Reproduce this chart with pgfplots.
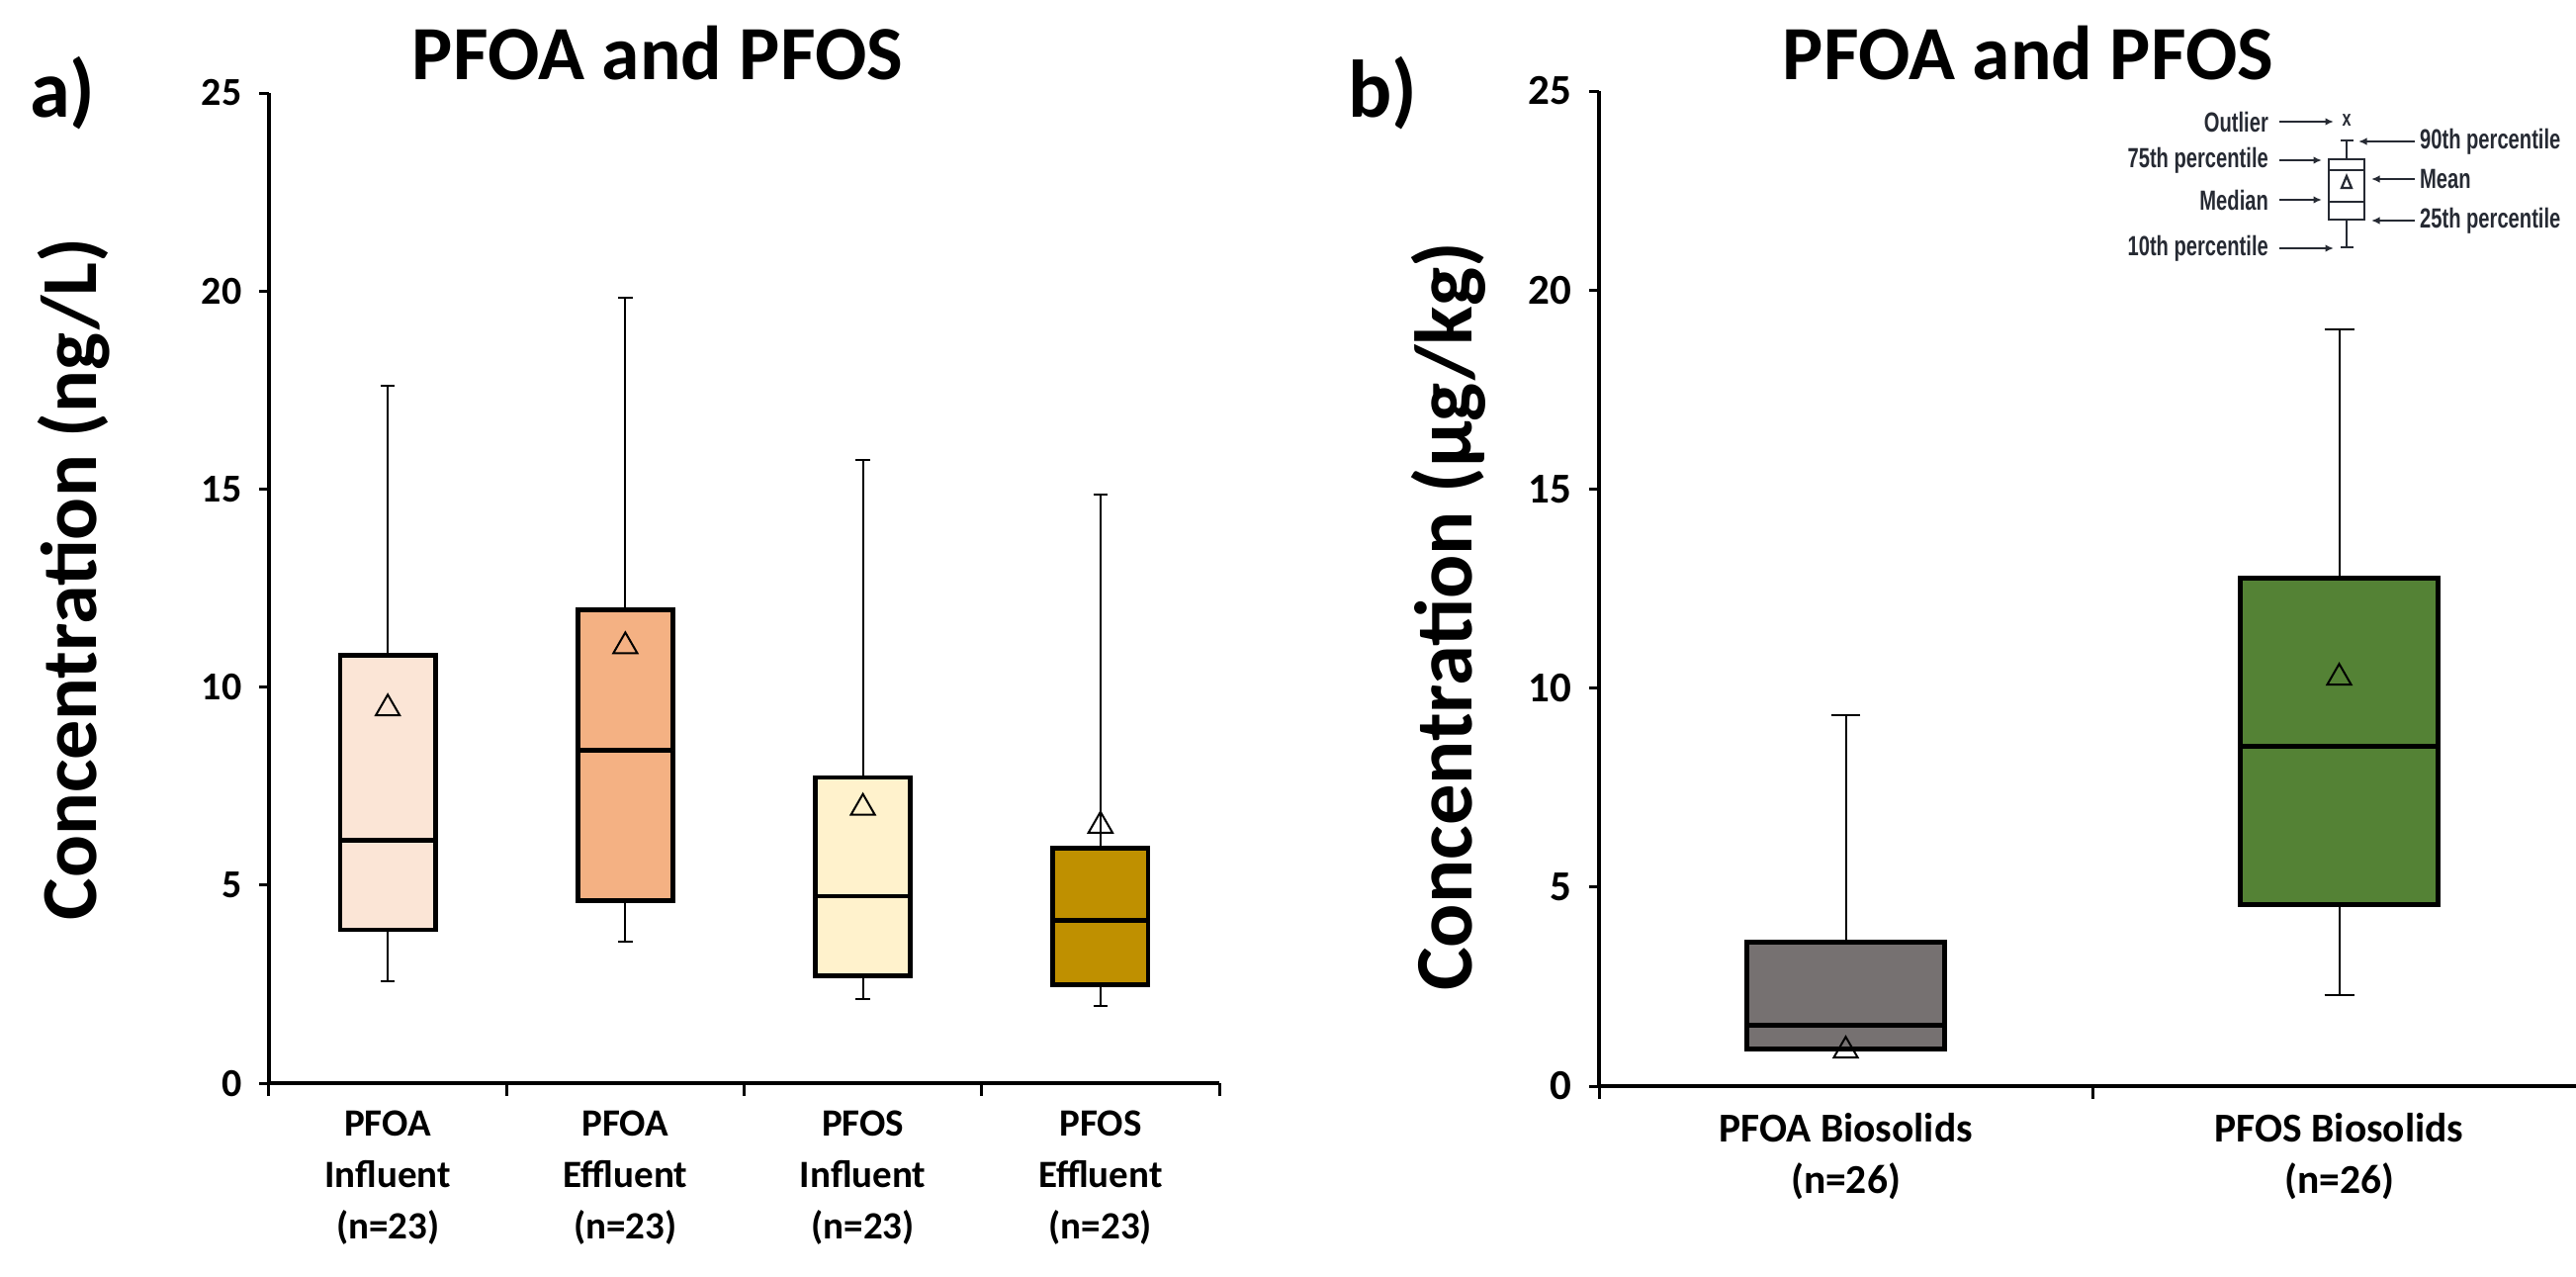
\documentclass[border=0pt]{standalone}
\usepackage{fontspec}
\setmainfont{Carlito}
\newfontfamily\narrow[FakeStretch=0.72]{Liberation Sans}
\usepackage{pgfplots}
\pgfplotsset{compat=1.18}
\usepgfplotslibrary{statistics}
\usetikzlibrary{arrows.meta}
\definecolor{c1}{HTML}{FBE5D6}
\definecolor{c2}{HTML}{F4B183}
\definecolor{c3}{HTML}{FFF2CC}
\definecolor{c4}{HTML}{BF9000}
\definecolor{c5}{HTML}{767171}
\definecolor{c6}{HTML}{548235}
\definecolor{legtxt}{HTML}{262A33}
\pgfplotsset{
  mybox/.style={
    scale only axis,
    axis x line*=bottom, axis y line*=left,
    xtick pos=bottom, ytick pos=left,
    axis line style={-, line width=0.7pt, black},
    ymin=0, ymax=25, ytick={0,5,...,25},
    tick align=outside,
    major tick length=2pt,
    major x tick style={draw=none},
    minor x tick style={line width=0.6pt, black},
    minor tick length=2.6pt,
    y tick style={line width=0.6pt, black},
    /pgf/number format/assume math mode=true,
    boxplot/draw direction=y,
    boxplot/every box/.style={line width=0.95pt},
    boxplot/every median/.style={line width=0.95pt},
    boxplot/every whisker/.style={line width=0.4pt},
    boxplot/every average/.style={/tikz/mark=triangle,/tikz/mark size=2.8pt,draw=black,line width=0.45pt,solid},
    boxplot/box extend=0.4,
    boxplot/whisker extend=0.06,
  }
}
\begin{document}
\begin{tikzpicture}
\path[use as bounding box] (0pt,0pt) rectangle (521pt,258pt);
% ---------------- panel a ----------------
\begin{axis}[mybox,
  at={(54.4pt,39pt)}, anchor=south west,
  width=192.2pt, height=200.2pt,
  xmin=0.5, xmax=4.5,
  xtick={1,2,3,4},
  minor xtick={0.5,1.5,2.5,3.5,4.5},
  xticklabels={{PFOA\\Influent\\(n=23)},{PFOA\\Effluent\\(n=23)},{PFOS\\Influent\\(n=23)},{PFOS\\Effluent\\(n=23)}},
  xticklabel style={align=center, font=\fontsize{7.8}{10.4}\selectfont\bfseries},
  yticklabel style={font=\fontsize{8}{8}\selectfont\bfseries},
  ylabel={Concentration (ng/L)},
  ylabel style={font=\fontsize{16}{16}\selectfont\bfseries, at={(axis description cs:-0.205,0.509)}, anchor=center},
]
\addplot[draw=black, fill=c1, boxplot prepared={draw position=1, lower whisker=2.58, lower quartile=3.87, median=6.14, upper quartile=10.81, upper whisker=17.6, average=9.46}] coordinates {};
\addplot[draw=black, fill=c2, boxplot prepared={draw position=2, lower whisker=3.56, lower quartile=4.60, median=8.40, upper quartile=11.95, upper whisker=19.84, average=11.03}] coordinates {};
\addplot[draw=black, fill=c3, boxplot prepared={draw position=3, lower whisker=2.12, lower quartile=2.71, median=4.72, upper quartile=7.72, upper whisker=15.73, average=6.95}] coordinates {};
\addplot[draw=black, fill=c4, boxplot prepared={draw position=4, lower whisker=1.94, lower quartile=2.49, median=4.10, upper quartile=5.93, upper whisker=14.85, average=6.50}] coordinates {};
\end{axis}
% ---------------- panel b ----------------
\begin{axis}[mybox,
  at={(323.4pt,38.4pt)}, anchor=south west,
  width=199.6pt, height=201.2pt,
  xmin=0.5, xmax=2.5,
  xtick={1,2},
  minor xtick={0.5,1.5,2.5},
  xticklabels={{PFOA Biosolids\\(n=26)},{PFOS Biosolids\\(n=26)}},
  xticklabel style={align=center, font=\fontsize{8.3}{10.4}\selectfont\bfseries},
  yticklabel style={font=\fontsize{8.6}{8.6}\selectfont\bfseries},
  ylabel={Concentration (µg/kg)},
  ylabel style={font=\fontsize{16.5}{16.5}\selectfont\bfseries, at={(axis description cs:-0.152,0.472)}, anchor=center},
]
\addplot[draw=black, fill=c5, boxplot prepared={draw position=1, lower whisker=0.93, lower quartile=0.93, median=1.53, upper quartile=3.61, upper whisker=9.31, average=0.89}] coordinates {};
\addplot[draw=black, fill=c6, boxplot prepared={draw position=2, lower whisker=2.29, lower quartile=4.57, median=8.54, upper quartile=12.76, upper whisker=19.0, average=10.26}] coordinates {};
\end{axis}
% ---------------- titles ----------------
\node[anchor=base, font=\fontsize{15.5}{15.5}\selectfont\bfseries, inner sep=0] at (133pt,242pt) {PFOA and PFOS};
\node[anchor=base, font=\fontsize{15.5}{15.5}\selectfont\bfseries, inner sep=0] at (410.2pt,242pt) {PFOA and PFOS};
\node[anchor=base west, font=\fontsize{16.5}{16.5}\selectfont\bfseries, inner sep=0] at (5.8pt,234.4pt) {a)};
\node[anchor=base west, font=\fontsize{16.5}{16.5}\selectfont\bfseries, inner sep=0] at (272.4pt,234.4pt) {b)};
% ---------------- key inset (image pixel coordinates) ----------------
\begin{scope}[shift={(0pt,258pt)}, x=0.2pt, y=-0.2pt, draw=legtxt, line width=0.45pt,
  lt/.style={font=\narrow\bfseries\fontsize{5.6}{5.6}\selectfont, text=legtxt, inner sep=0},
  ar/.style={-{Latex[length=1.7pt,width=1.5pt]}}]
  \node[lt, anchor=east] at (2295,123) {Outlier};
  \node[lt, anchor=east] at (2295,162) {75th percentile};
  \node[lt, anchor=east] at (2295,202) {Median};
  \node[lt, anchor=east] at (2295,251) {10th percentile};
  \node[lt, anchor=west] at (2446,143) {90th percentile};
  \node[lt, anchor=west] at (2446,181) {Mean};
  \node[lt, anchor=west] at (2446,223) {25th percentile};
  \draw[ar] (2305,123) -- (2360,123);
  \draw[ar] (2305,162) -- (2348,162);
  \draw[ar] (2305,202) -- (2348,202);
  \draw[ar] (2305,251) -- (2360,251);
  \draw[ar] (2442,143) -- (2385,143);
  \draw[ar] (2442,181) -- (2398,181);
  \draw[ar] (2442,223) -- (2398,223);
  \node[lt, font=\narrow\bfseries\fontsize{4.5}{4.5}\selectfont] at (2373,122) {x};
  \draw (2367,142) -- (2380,142);
  \draw (2373,142) -- (2373,161);
  \draw (2355,161) rectangle (2391,222);
  \draw (2355,172) -- (2391,172);
  \draw (2355,204) -- (2391,204);
  \draw (2373,178) -- (2378,190) -- (2368,190) -- cycle;
  \draw (2373,222) -- (2373,250);
  \draw (2367,250) -- (2380,250);
\end{scope}
\end{tikzpicture}
\end{document}
